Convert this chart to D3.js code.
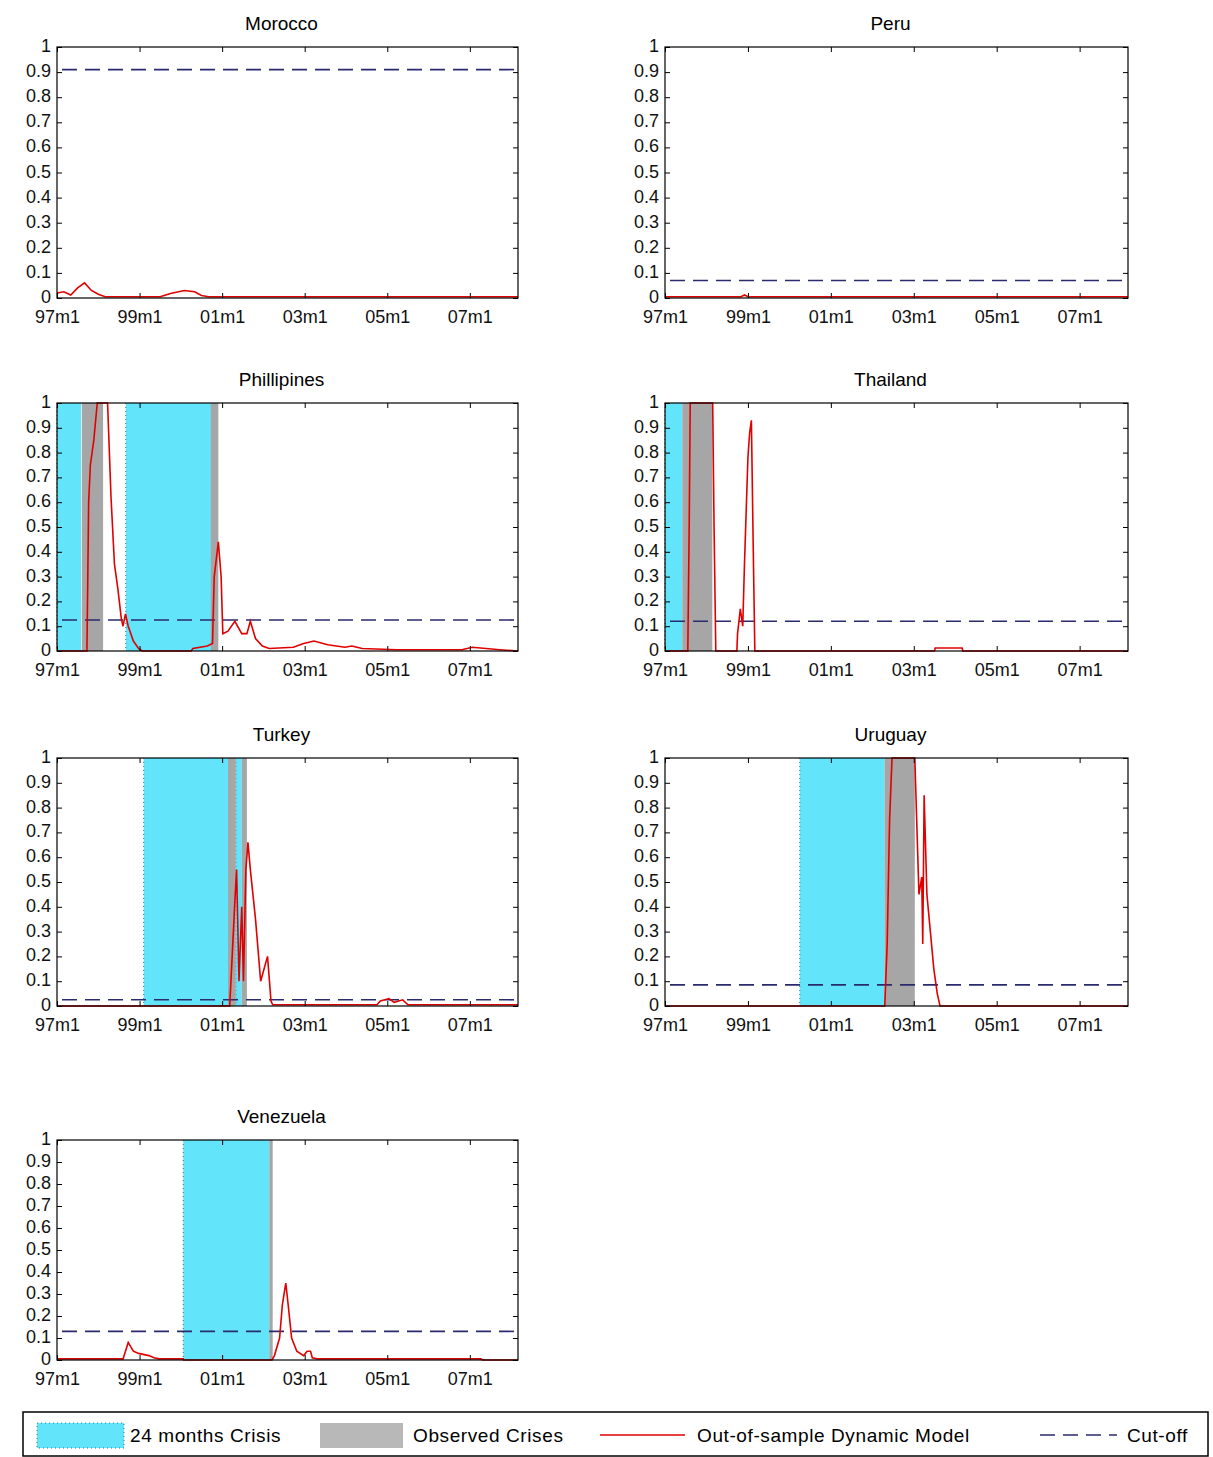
<!DOCTYPE html>
<html><head><meta charset="utf-8">
<script src="https://cdn.jsdelivr.net/npm/d3@7"></script>
<style>body{margin:0;background:#fff}text{font-family:"Liberation Sans",Arial,sans-serif}</style>
</head><body>
<script>
// months counted from 97m1 = 0
const xTickMonths = [0, 24, 48, 72, 96, 120];
const xTickLabels = ["97m1", "99m1", "01m1", "03m1", "05m1", "07m1"];
const yTicks = [0, 0.1, 0.2, 0.3, 0.4, 0.5, 0.6, 0.7, 0.8, 0.9, 1];
const countries = ["Morocco", "Peru", "Phillipines", "Thailand", "Turkey", "Uruguay", "Venezuela"];
const cutoffs = [0.91, 0.07, 0.125, 0.12, 0.025, 0.085, 0.13];
// [start, end] months
const crisisWindows = [[], [], [[0, 7], [20, 45]], [[0, 5]], [[25.2, 49.7], [52, 53.7]], [[39, 63.5]], [[36.7, 61.7]]];
const observedCrises = [[], [], [[7.2, 13.4], [44.7, 46.9]], [[5, 13.7]], [[49.7, 52], [53.7, 55.2]], [[63.5, 72.3]], [[61.7, 62.7]]];
const moroccoLine = [[0,0.02],[2,0.025],[4,0.012],[6,0.04],[8,0.06],[10,0.03],[12,0.015],[14,0.005],[30,0.005],[33,0.018],[37,0.03],[40,0.025],[42,0.01],[44,0.005],[134,0.005]];
const peruLine = [[0,0.005],[22,0.005],[23,0.012],[24,0.005],[134,0.005]];
const philLine = [[0,0],[8.7,0],[9.2,0.6],[9.7,0.75],[10.7,0.85],[11.7,1],[14.7,1],[15.7,0.62],[16.7,0.35],[17.7,0.25],[18.7,0.13],[19.2,0.1],[19.9,0.15],[20.7,0.1],[22.2,0.04],[23.7,0.01],[24.7,0],[39,0],[39.5,0.01],[43.7,0.02],[45.2,0.03],[45.7,0.3],[46.9,0.44],[47.7,0.3],[48.2,0.07],[49.7,0.08],[51.7,0.12],[53.7,0.07],[55.2,0.07],[56.2,0.12],[57.7,0.05],[59.7,0.02],[61.7,0.01],[68.7,0.015],[71.7,0.03],[74.7,0.04],[78.7,0.025],[83.7,0.015],[85.7,0.02],[88.7,0.01],[98.7,0.005],[117.7,0.005],[120.7,0.015],[128.7,0.005],[134,0]];
const thaiLine = [[0,0],[6.6,0],[7,0.5],[7.3,1],[13.8,1],[14.2,0.5],[14.7,0],[20.8,0],[21,0.07],[21.8,0.17],[22.5,0.1],[23,0.35],[24,0.78],[24.5,0.88],[25,0.93],[25.5,0.45],[26,0],[78,0],[78.2,0.012],[86,0.012],[86.2,0],[134,0]];
const turkeyLine = [[0,0],[50.2,0],[51.7,0.42],[52.2,0.55],[52.9,0.1],[53.7,0.4],[54.2,0.1],[54.9,0.55],[55.5,0.66],[56.2,0.55],[57.7,0.35],[59.2,0.1],[60.2,0.15],[61.2,0.2],[62.2,0.02],[62.7,0.005],[93,0.005],[94,0.02],[96.5,0.03],[98,0.015],[100.5,0.025],[102,0.005],[134,0.005]];
const uruguayLine = [[0,0],[63.6,0],[64.3,0.25],[65,0.75],[65.7,1],[72.3,1],[72.8,0.77],[73.5,0.45],[74.3,0.52],[74.6,0.25],[75,0.85],[75.3,0.7],[75.8,0.45],[76.8,0.3],[77.8,0.15],[78.8,0.05],[79.6,0],[134,0]];
const venezLine = [[0,0.005],[19.2,0.005],[20.7,0.08],[22.2,0.04],[23.7,0.03],[26.7,0.02],[28.2,0.01],[29.7,0.005],[36.7,0.005],[36.8,0],[62.5,0],[63.2,0.02],[64.7,0.1],[65.5,0.25],[66.2,0.32],[66.5,0.35],[67.2,0.25],[68.2,0.1],[69.7,0.04],[71.7,0.02],[72.7,0.04],[73.7,0.04],[74.2,0.01],[75.7,0.005],[123.2,0.005],[123.7,0],[134,0]];
const lines = [moroccoLine, peruLine, philLine, thaiLine, turkeyLine, uruguayLine, venezLine];
const legendLabels = ["24 months Crisis", "Observed Crises", "Out-of-sample Dynamic Model", "Cut-off"];

const W = 1213, H = 1457;
const svg = d3.select("body").append("svg").attr("width", W).attr("height", H);
const colX = [[57, 518], [665, 1128]];
const rowY = [[47, 298], [403, 651], [758, 1006], [1140, 1360]];
const cyan = "#62e4fb", grey = "#a6a6a6", red = "#e00000", navy = "#2a2a6e";

countries.forEach((name, i) => {
  const [x0, x1] = colX[i % 2], [y0, y1] = rowY[Math.floor(i / 2)];
  const x = d3.scaleLinear().domain([0, 134]).range([x0, x1]);
  const y = d3.scaleLinear().domain([0, 1]).range([y1, y0]);
  const g = svg.append("g");
  g.append("text").attr("x", (x0 + x1) / 2 - 6).attr("y", y0 - 17).attr("text-anchor", "middle")
    .attr("font-size", 19).text(name);
  crisisWindows[i].forEach(([a, b]) => {
    g.append("rect").attr("x", x(a)).attr("width", x(b) - x(a)).attr("y", y0).attr("height", y1 - y0).attr("fill", cyan);
    g.append("line").attr("x1", x(a)).attr("x2", x(a)).attr("y1", y0).attr("y2", y1)
      .attr("stroke", "#2a7a90").attr("stroke-dasharray", "1,3");
  });
  observedCrises[i].forEach(([a, b]) => {
    g.append("rect").attr("x", x(a)).attr("width", x(b) - x(a)).attr("y", y0).attr("height", y1 - y0).attr("fill", grey);
  });
  g.append("line").attr("x1", x0 + 5).attr("x2", x1).attr("y1", y(cutoffs[i])).attr("y2", y(cutoffs[i]))
    .attr("stroke", navy).attr("stroke-width", 1.6).attr("stroke-dasharray", "15,8");
  g.append("path").datum(lines[i]).attr("fill", "none").attr("stroke", red).attr("stroke-width", 1.6)
    .attr("d", d3.line().x(d => x(d[0])).y(d => y(d[1])));
  g.append("rect").attr("x", x0).attr("y", y0).attr("width", x1 - x0).attr("height", y1 - y0)
    .attr("fill", "none").attr("stroke", "#000").attr("stroke-width", 1.2);
  const tickLen = 5;
  const ax = g.append("g").attr("transform", `translate(0,${y1})`)
    .call(d3.axisBottom(x).tickValues(xTickMonths).tickFormat((d, k) => xTickLabels[k]).tickSize(-tickLen).tickPadding(12));
  const axT = g.append("g").attr("transform", `translate(0,${y0})`)
    .call(d3.axisTop(x).tickValues(xTickMonths).tickFormat("").tickSize(-tickLen));
  const ay = g.append("g").attr("transform", `translate(${x0},0)`)
    .call(d3.axisLeft(y).tickValues(yTicks).tickFormat(d => d === 0 || d === 1 ? d3.format("d")(d) : d3.format(".1f")(d)).tickSize(-tickLen).tickPadding(6));
  const ayR = g.append("g").attr("transform", `translate(${x1},0)`)
    .call(d3.axisRight(y).tickValues(yTicks).tickFormat("").tickSize(-tickLen));
  [ax, axT, ay, ayR].forEach(a => { a.select(".domain").remove(); a.selectAll("text").attr("font-size", 18).attr("fill", "#111"); });
  ay.selectAll("text").attr("dy", "0.25em");
});

// legend
const lg = svg.append("g");
lg.append("rect").attr("x", 23).attr("y", 1412).attr("width", 1185).attr("height", 44).attr("fill", "#fff").attr("stroke", "#000").attr("stroke-width", 1.5);
const ly = 1435;
lg.append("rect").attr("x", 37).attr("y", 1423).attr("width", 87).attr("height", 25).attr("fill", cyan).attr("stroke", "#2a7a90").attr("stroke-dasharray", "1,3");
lg.append("rect").attr("x", 320).attr("y", 1423).attr("width", 83).attr("height", 25).attr("fill", "#b8b8b8");
lg.append("line").attr("x1", 600).attr("x2", 685).attr("y1", ly).attr("y2", ly).attr("stroke", red).attr("stroke-width", 1.6);
lg.append("line").attr("x1", 1040).attr("x2", 1117).attr("y1", ly).attr("y2", ly).attr("stroke", navy).attr("stroke-width", 1.6).attr("stroke-dasharray", "15,8");
[130, 413, 697, 1127].forEach((lx, k) => {
  lg.append("text").attr("x", lx).attr("y", ly + 7).attr("font-size", 19).attr("letter-spacing", 0.6).text(legendLabels[k]);
});
</script>
</body></html>
